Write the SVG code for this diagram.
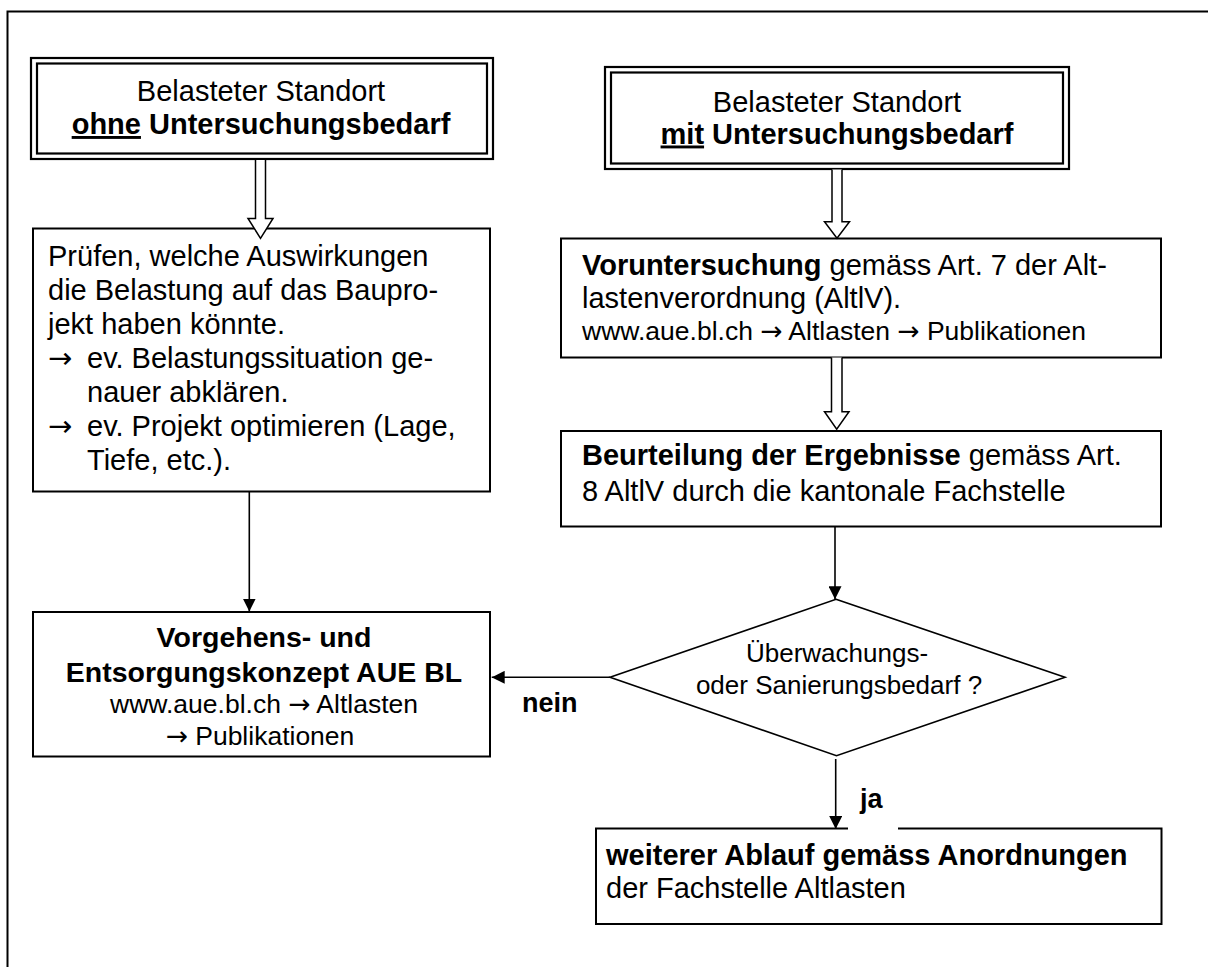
<svg xmlns="http://www.w3.org/2000/svg" width="1208" height="967" viewBox="0 0 1208 967">
<defs>
<style>
.t{font-family:"Liberation Sans",Arial,Helvetica,sans-serif;fill:#000;}
.f29{font-size:29px;}
.f26{font-size:26.5px;}
.fd{font-size:26px;}
.fl{font-size:27px;font-weight:bold;}
.b{font-weight:bold;}
.u{text-decoration:underline;}
.ar{font-family:"DejaVu Sans","Liberation Sans",sans-serif;}
.box{fill:#fff;stroke:#000;stroke-width:2;}
.dbl{fill:none;stroke:#000;stroke-width:2.2;}
.conn{fill:none;stroke:#000;stroke-width:1.6;}
.hollow{fill:#fff;stroke:#000;stroke-width:1.5;stroke-linejoin:miter;}
</style>
<marker id="ah" viewBox="0 0 13 13" refX="13" refY="6.5" markerWidth="13" markerHeight="13" markerUnits="userSpaceOnUse" orient="auto">
<path d="M0,0 L13,6.5 L0,13 z" fill="#000"/>
</marker>
</defs>
<rect width="1208" height="967" fill="#fff"/>
<path id="frame" d="M7.5,1000 V11.5 H1300" fill="none" stroke="#000" stroke-width="2"/>

<g id="n-ohne">
<rect x="31" y="58" width="462" height="101" fill="#fff" class="dbl"/>
<rect x="37" y="63.5" width="450" height="90" class="dbl"/>
<text class="t f29" x="261" y="101" text-anchor="middle">Belasteter Standort</text>
<text class="t f29 b" x="261" y="134" text-anchor="middle"><tspan class="u">ohne</tspan> Untersuchungsbedarf</text>
</g>

<g id="n-mit">
<rect x="605" y="67" width="464" height="102" fill="#fff" class="dbl"/>
<rect x="611" y="72.5" width="452" height="91" class="dbl"/>
<text class="t f29" x="837" y="112" text-anchor="middle">Belasteter Standort</text>
<text class="t f29 b" x="837" y="143.5" text-anchor="middle"><tspan class="u">mit</tspan> Untersuchungsbedarf</text>
</g>

<g id="n-pruefen">
<rect class="box" x="33" y="228.5" width="457" height="263"/>
<text class="t f29" x="48" y="266">Prüfen, welche Auswirkungen</text>
<text class="t f29" x="48" y="300">die Belastung auf das Baupro-</text>
<text class="t f29" x="48" y="334">jekt haben könnte.</text>
<text class="t f29 ar" x="48" y="368">→</text>
<text class="t f29" x="87" y="368">ev. Belastungssituation ge-</text>
<text class="t f29" x="87" y="402">nauer abklären.</text>
<text class="t f29 ar" x="48" y="436">→</text>
<text class="t f29" x="87" y="436">ev. Projekt optimieren (Lage,</text>
<text class="t f29" x="87" y="470">Tiefe, etc.).</text>
</g>

<g id="n-vorunters">
<rect class="box" x="561" y="238.5" width="600" height="119"/>
<text class="t f29" x="582" y="275"><tspan class="b">Voruntersuchung</tspan> gemäss Art. 7 der Alt-</text>
<text class="t f29" x="582" y="308.3">lastenverordnung (AltlV).</text>
<text class="t f26" x="582" y="340">www.aue.bl.ch <tspan class="ar">→</tspan> Altlasten <tspan class="ar">→</tspan> Publikationen</text>
</g>

<g id="n-beurteilung">
<rect class="box" x="561" y="431" width="600" height="95.5"/>
<text class="t f29" x="582" y="465"><tspan class="b">Beurteilung der Ergebnisse</tspan> gemäss Art.</text>
<text class="t f29" x="582" y="500.7">8 AltlV durch die kantonale Fachstelle</text>
</g>

<g id="n-vorgehen">
<rect class="box" x="33" y="612" width="457" height="144.5"/>
<text class="t b" x="264" y="647.3" text-anchor="middle" style="font-size:28.5px">Vorgehens- und</text>
<text class="t b" x="264" y="681.7" text-anchor="middle" style="font-size:28.5px">Entsorgungskonzept AUE BL</text>
<text class="t f26" x="264" y="713.3" text-anchor="middle">www.aue.bl.ch <tspan class="ar">→</tspan> Altlasten</text>
<text class="t f26" x="260" y="745" text-anchor="middle"><tspan class="ar">→</tspan> Publikationen</text>
</g>

<g id="n-bedarf">
<polygon points="836,599.3 1065,677.3 836.5,755.7 610,677.3" fill="#fff" stroke="#000" stroke-width="1.6"/>
<text class="t fd" x="837" y="661.7" text-anchor="middle">Überwachungs-</text>
<text class="t fd" x="839" y="694" text-anchor="middle">oder Sanierungsbedarf ?</text>
</g>

<g id="n-weiterer">
<rect class="box" x="596" y="828.5" width="565.5" height="95.5"/>
<text class="t f29 b" x="606" y="865">weiterer Ablauf gemäss Anordnungen</text>
<text class="t f29" x="606" y="898">der Fachstelle Altlasten</text>
</g>

<g id="connectors">
<path class="hollow" d="M255.5,160 V218.5 H248 L260.5,238.3 L273,218.5 H265.5 V160"/>
<path class="hollow" d="M832,169.5 V221.7 H824.5 L837,238.3 L849.5,221.7 H842 V169.5"/>
<path class="hollow" d="M831.5,357.5 V411.7 H824.5 L836.7,429.3 L849,411.7 H842 V357.5"/>
<line class="conn" x1="249.3" y1="491.5" x2="249.3" y2="611.5" marker-end="url(#ah)"/>
<line class="conn" x1="835" y1="527" x2="835" y2="599.3" marker-end="url(#ah)"/>
<line class="conn" x1="610" y1="677.3" x2="491.7" y2="677.3" marker-end="url(#ah)"/>
<text class="t fl" x="522" y="712">nein</text>
<line class="conn" x1="835.7" y1="759" x2="835.7" y2="829" marker-end="url(#ah)"/>
<rect x="848" y="785" width="50" height="46" fill="#fff"/>
<text class="t fl" x="860" y="808">ja</text>
</g>
</svg>
